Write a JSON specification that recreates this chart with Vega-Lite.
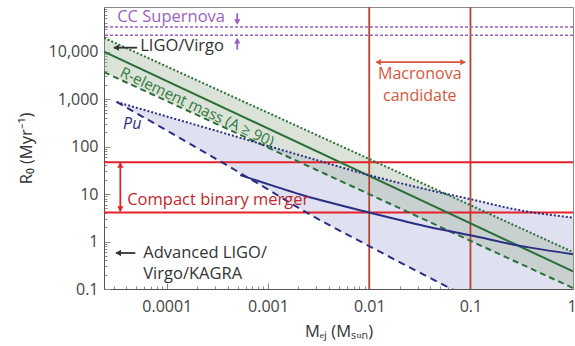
{
  "$schema": "https://vega.github.io/schema/vega-lite/v6.json",
  "width": 469,
  "height": 282,
  "autosize": {"type": "none"},
  "padding": {"left": 104, "top": 7, "right": 2, "bottom": 57},
  "background": "white",
  "config": {"view": {"stroke": "#8a8a8a", "strokeWidth": 1}, "font": "Open Sans"},
  "datasets": {
    "pu": [
      {"M": 3.2e-5, "R": 870, "R2": 870},
      {"M": 1e-4, "R": 430, "R2": 218},
      {"M": 3.2e-4, "R": 210, "R2": 52},
      {"M": 0.001, "R": 103, "R2": 12.5},
      {"M": 0.0021, "R": 65, "R2": 4.8},
      {"M": 0.01, "R": 25, "R2": 0.8},
      {"M": 0.04, "R": 12, "R2": 0.17},
      {"M": 0.1, "R": 7.8, "R2": 0.062},
      {"M": 0.3, "R": 4.6, "R2": 0.018},
      {"M": 1.03, "R": 3.2, "R2": 0.005}
    ],
    "pusolid": [
      {"M": 5.3e-4, "R": 25},
      {"M": 0.0013, "R": 13.5},
      {"M": 0.0021, "R": 9.8},
      {"M": 0.01, "R": 4.1},
      {"M": 0.04, "R": 2.0},
      {"M": 0.1, "R": 1.35},
      {"M": 0.3, "R": 0.82},
      {"M": 1.03, "R": 0.54}
    ],
    "re": [
      {"M": 2.4e-5, "R": 19500, "mid": 10000, "R2": 3700},
      {"M": 1.03, "R": 0.6, "mid": 0.235, "R2": 0.105}
    ],
    "vl": [{"M": 0.01}, {"M": 0.1}],
    "hr": [{"R": 47}, {"R": 4.1}],
    "hl": [{"R": 33000}, {"R": 22000}],
    "arrows": [
      {"M": 5.1e-5, "R": 12100, "M2": 3.0e-5, "R2": 12100, "g": "k"},
      {"M": 4.97e-4, "R": 64000, "M2": 4.97e-4, "R2": 40000, "g": "p"},
      {"M": 4.97e-4, "R": 11000, "M2": 4.97e-4, "R2": 18500, "g": "p"},
      {"M": 0.0118, "R": 6000, "M2": 0.088, "R2": 6000, "g": "o"},
      {"M": 3.48e-5, "R": 45, "M2": 3.48e-5, "R2": 4.3, "g": "r"},
      {"M": 4.89e-5, "R": 0.573, "M2": 3.15e-5, "R2": 0.573, "g": "k"}
    ],
    "heads": [
      {"M": 3.17e-5, "R": 12100, "s": "left", "g": "k"},
      {"M": 4.97e-4, "R": 42000, "s": "down", "g": "p"},
      {"M": 4.97e-4, "R": 17000, "s": "up", "g": "p"},
      {"M": 0.01225, "R": 6000, "s": "left", "g": "o"},
      {"M": 0.0845, "R": 6000, "s": "right", "g": "o"},
      {"M": 3.48e-5, "R": 40.7, "s": "up", "g": "r"},
      {"M": 3.48e-5, "R": 4.83, "s": "down", "g": "r"},
      {"M": 3.32e-5, "R": 0.573, "s": "left", "g": "k"}
    ],
    "txtL": [
      {"M": 3.24e-5, "R": 53000, "t": "CC Supernova", "g": "p"},
      {"M": 5.47e-5, "R": 13000, "t": "LIGO/Virgo", "g": "k"},
      {"M": 4.07e-5, "R": 7.5, "t": "Compact binary merger", "g": "rt"},
      {"M": 5.86e-5, "R": 0.573, "t": "Advanced LIGO/", "g": "k"},
      {"M": 5.86e-5, "R": 0.207, "t": "Virgo/KAGRA", "g": "k"}
    ],
    "txtC": [
      {"M": 0.0316, "R": 3360, "t": "Macronova", "g": "o"},
      {"M": 0.0316, "R": 1156, "t": "candidate", "g": "o"}
    ],
    "txtRot": [
      {"M": 2.0e-4, "R": 680, "t": "R-element mass (A ≥ 90)", "g": "g"}
    ],
    "txtPu": [
      {"M": 4.56e-5, "R": 298, "t": "Pu", "g": "b"}
    ]
  },
  "layer": [
    {
      "data": {"name": "pu"},
      "mark": {"type": "area", "color": "#dfe1f1", "clip": true, "interpolate": "monotone"},
      "encoding": {
        "x": {
          "field": "M", "type": "quantitative",
          "scale": {"type": "log", "domain": [2.4e-5, 1.03]},
          "axis": {
            "title": "Mₑⱼ (Mₛᵤₙ)",
            "values": [0.00003,0.00004,0.00005,0.00006,0.00007,0.00008,0.00009,0.0001,0.0002,0.0003,0.0004,0.0005,0.0006,0.0007,0.0008,0.0009,0.001,0.002,0.003,0.004,0.005,0.006,0.007,0.008,0.009,0.01,0.02,0.03,0.04,0.05,0.06,0.07,0.08,0.09,0.1,0.2,0.3,0.4,0.5,0.6,0.7,0.8,0.9,1],
            "labelExpr": "indexof([0.0001,0.001,0.01,0.1,1], datum.value) >= 0 ? format(datum.value, ',') : ''",
            "tickSize": {"condition": {"test": "indexof([0.0001,0.001,0.01,0.1,1], datum.value) >= 0", "value": -6}, "value": -3},
            "tickColor": "#8a8a8a",
            "domainColor": "#555555",
            "labelFont": "Open Sans", "labelFontSize": 16, "labelColor": "#444444",
            "labelPadding": 15, "labelOverlap": false, "labelFlush": false, "labelBound": false,
            "titleFont": "Open Sans", "titleFontSize": 16.5, "titleFontWeight": "normal", "titleColor": "#333333",
            "titlePadding": 6, "grid": false
          }
        },
        "y": {
          "field": "R", "type": "quantitative",
          "scale": {"type": "log", "domain": [0.1, 87000]},
          "axis": {
            "title": "R₀ (Myr⁻¹)",
            "values": [0.1,0.2,0.3,0.4,0.5,0.6,0.7,0.8,0.9,1,2,3,4,5,6,7,8,9,10,20,30,40,50,60,70,80,90,100,200,300,400,500,600,700,800,900,1000,2000,3000,4000,5000,6000,7000,8000,9000,10000,20000,30000,40000,50000,60000,70000,80000],
            "labelExpr": "indexof([0.1,1,10,100,1000,10000], datum.value) >= 0 ? format(datum.value, ',') : ''",
            "tickSize": {"condition": {"test": "indexof([0.1,1,10,100,1000,10000], datum.value) >= 0", "value": -6}, "value": -3},
            "tickColor": "#8a8a8a",
            "domainColor": "#555555",
            "labelFont": "Open Sans", "labelFontSize": 16, "labelColor": "#444444",
            "labelPadding": 12, "labelOverlap": false, "labelFlush": false, "labelBound": false,
            "titleFont": "Open Sans", "titleFontSize": 16.5, "titleFontWeight": "normal", "titleColor": "#333333",
            "titlePadding": 14, "grid": false
          }
        },
        "y2": {"field": "R2"}
      }
    },
    {
      "data": {"name": "re"},
      "mark": {"type": "area", "color": "#a9bda2", "opacity": 0.42, "clip": true},
      "encoding": {
        "x": {"field": "M", "type": "quantitative", "scale": {"type": "log", "domain": [2.4e-5, 1.03]}},
        "y": {"field": "R", "type": "quantitative", "scale": {"type": "log", "domain": [0.1, 87000]}},
        "y2": {"field": "R2"}
      }
    },
    {
      "data": {"name": "vl"},
      "mark": {"type": "rule", "color": "#b8432c", "strokeWidth": 1.8},
      "encoding": {
        "x": {"field": "M", "type": "quantitative", "scale": {"type": "log", "domain": [2.4e-5, 1.03]}}
      }
    },
    {
      "data": {"name": "hr"},
      "mark": {"type": "rule", "color": "#e52229", "strokeWidth": 2},
      "encoding": {
        "y": {"field": "R", "type": "quantitative", "scale": {"type": "log", "domain": [0.1, 87000]}}
      }
    },
    {
      "data": {"name": "hl"},
      "mark": {"type": "rule", "color": "#9b5fc0", "strokeWidth": 1.5, "strokeDash": [3, 2]},
      "encoding": {
        "y": {"field": "R", "type": "quantitative", "scale": {"type": "log", "domain": [0.1, 87000]}}
      }
    },
    {
      "data": {"name": "re"},
      "mark": {"type": "line", "color": "#2a6f3a", "strokeWidth": 2, "strokeDash": [2, 2], "clip": true},
      "encoding": {
        "x": {"field": "M", "type": "quantitative", "scale": {"type": "log", "domain": [2.4e-5, 1.03]}},
        "y": {"field": "R", "type": "quantitative", "scale": {"type": "log", "domain": [0.1, 87000]}}
      }
    },
    {
      "data": {"name": "re"},
      "mark": {"type": "line", "color": "#2a6f3a", "strokeWidth": 2, "clip": true},
      "encoding": {
        "x": {"field": "M", "type": "quantitative", "scale": {"type": "log", "domain": [2.4e-5, 1.03]}},
        "y": {"field": "mid", "type": "quantitative", "scale": {"type": "log", "domain": [0.1, 87000]}}
      }
    },
    {
      "data": {"name": "re"},
      "mark": {"type": "line", "color": "#2a6f3a", "strokeWidth": 2, "strokeDash": [6, 4], "clip": true},
      "encoding": {
        "x": {"field": "M", "type": "quantitative", "scale": {"type": "log", "domain": [2.4e-5, 1.03]}},
        "y": {"field": "R2", "type": "quantitative", "scale": {"type": "log", "domain": [0.1, 87000]}}
      }
    },
    {
      "data": {"name": "pu"},
      "mark": {"type": "line", "color": "#2b2e83", "strokeWidth": 2, "strokeDash": [2, 2], "clip": true, "interpolate": "monotone"},
      "encoding": {
        "x": {"field": "M", "type": "quantitative", "scale": {"type": "log", "domain": [2.4e-5, 1.03]}},
        "y": {"field": "R", "type": "quantitative", "scale": {"type": "log", "domain": [0.1, 87000]}}
      }
    },
    {
      "data": {"name": "pu"},
      "mark": {"type": "line", "color": "#2b2e83", "strokeWidth": 2, "strokeDash": [7, 5], "clip": true, "interpolate": "monotone"},
      "encoding": {
        "x": {"field": "M", "type": "quantitative", "scale": {"type": "log", "domain": [2.4e-5, 1.03]}},
        "y": {"field": "R2", "type": "quantitative", "scale": {"type": "log", "domain": [0.1, 87000]}}
      }
    },
    {
      "data": {"name": "pusolid"},
      "mark": {"type": "line", "color": "#2b2e83", "strokeWidth": 2, "clip": true, "interpolate": "monotone"},
      "encoding": {
        "x": {"field": "M", "type": "quantitative", "scale": {"type": "log", "domain": [2.4e-5, 1.03]}},
        "y": {"field": "R", "type": "quantitative", "scale": {"type": "log", "domain": [0.1, 87000]}}
      }
    },
    {
      "data": {"name": "arrows"},
      "mark": {"type": "rule", "strokeWidth": 1.8},
      "encoding": {
        "x": {"field": "M", "type": "quantitative", "scale": {"type": "log", "domain": [2.4e-5, 1.03]}},
        "y": {"field": "R", "type": "quantitative", "scale": {"type": "log", "domain": [0.1, 87000]}},
        "x2": {"field": "M2"},
        "y2": {"field": "R2"},
        "color": {"field": "g", "type": "nominal", "legend": null,
          "scale": {"domain": ["k", "p", "r", "rt", "o", "g", "b"], "range": ["#333333", "#9b5fc0", "#e52229", "#c1272d", "#d5573b", "#2e7a3e", "#2b2e83"]}}
      }
    },
    {
      "data": {"name": "heads"},
      "mark": {"type": "point", "filled": true, "opacity": 1, "size": 40},
      "encoding": {
        "x": {"field": "M", "type": "quantitative", "scale": {"type": "log", "domain": [2.4e-5, 1.03]}},
        "y": {"field": "R", "type": "quantitative", "scale": {"type": "log", "domain": [0.1, 87000]}},
        "shape": {"field": "s", "type": "nominal", "legend": null,
          "scale": {"domain": ["left", "right", "up", "down"], "range": ["triangle-left", "triangle-right", "triangle-up", "triangle-down"]}},
        "color": {"field": "g", "type": "nominal", "legend": null}
      }
    },
    {
      "data": {"name": "txtL"},
      "mark": {"type": "text", "align": "left", "baseline": "middle", "font": "Open Sans", "fontSize": 16.5},
      "encoding": {
        "x": {"field": "M", "type": "quantitative", "scale": {"type": "log", "domain": [2.4e-5, 1.03]}},
        "y": {"field": "R", "type": "quantitative", "scale": {"type": "log", "domain": [0.1, 87000]}},
        "text": {"field": "t"},
        "color": {"field": "g", "type": "nominal", "legend": null}
      }
    },
    {
      "data": {"name": "txtC"},
      "mark": {"type": "text", "align": "center", "baseline": "middle", "font": "Open Sans", "fontSize": 16},
      "encoding": {
        "x": {"field": "M", "type": "quantitative", "scale": {"type": "log", "domain": [2.4e-5, 1.03]}},
        "y": {"field": "R", "type": "quantitative", "scale": {"type": "log", "domain": [0.1, 87000]}},
        "text": {"field": "t"},
        "color": {"field": "g", "type": "nominal", "legend": null}
      }
    },
    {
      "data": {"name": "txtRot"},
      "mark": {"type": "text", "align": "center", "baseline": "middle", "font": "Open Sans", "fontSize": 15, "angle": 25},
      "encoding": {
        "x": {"field": "M", "type": "quantitative", "scale": {"type": "log", "domain": [2.4e-5, 1.03]}},
        "y": {"field": "R", "type": "quantitative", "scale": {"type": "log", "domain": [0.1, 87000]}},
        "text": {"field": "t"},
        "color": {"field": "g", "type": "nominal", "legend": null}
      }
    },
    {
      "data": {"name": "txtPu"},
      "mark": {"type": "text", "align": "center", "baseline": "middle", "font": "Open Sans", "fontSize": 16, "fontStyle": "italic"},
      "encoding": {
        "x": {"field": "M", "type": "quantitative", "scale": {"type": "log", "domain": [2.4e-5, 1.03]}},
        "y": {"field": "R", "type": "quantitative", "scale": {"type": "log", "domain": [0.1, 87000]}},
        "text": {"field": "t"},
        "color": {"field": "g", "type": "nominal", "legend": null}
      }
    }
  ]
}
